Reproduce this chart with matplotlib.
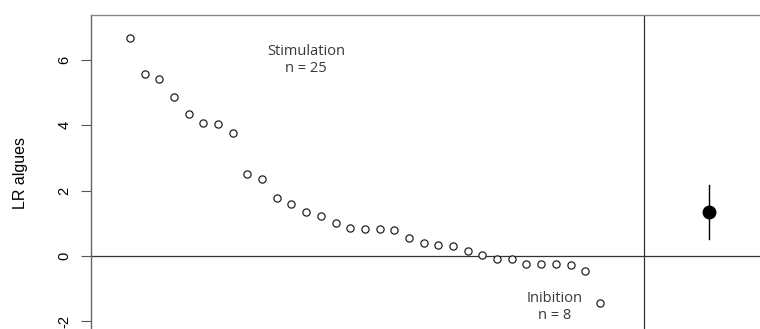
import matplotlib.pyplot as plt

# LR values, sorted
lr_values = [6.68, 5.57, 5.42, 4.86, 4.35, 4.07, 4.05, 3.77, 2.52, 2.35,
             1.78, 1.59, 1.34, 1.23, 1.01, 0.85, 0.84, 0.83, 0.80, 0.55,
             0.40, 0.34, 0.31, 0.17, 0.03,
             -0.08, -0.10, -0.24, -0.24, -0.24, -0.26, -0.45, -1.43]
idx = list(range(1, len(lr_values) + 1))

mean_x = 40.4
mean_lr = 1.35
ci_low = 0.51
ci_high = 2.17
sep_x = 36

yticks = [-2, 0, 2, 4, 6]

fig = plt.figure(figsize=(7.6, 3.29), dpi=100)
ax = fig.add_axes([91 / 760, 0, 1 - 91 / 760, 1 - 15 / 329])

ax.plot(idx, lr_values, 'o', mfc='white', mec='#222222', mew=0.9, ms=5.2, zorder=3)
ax.axhline(0, color='#333333', lw=0.9)
ax.axvline(sep_x, color='#333333', lw=0.9)
ax.plot([mean_x, mean_x], [ci_low, ci_high], color='black', lw=1.0)
ax.plot(mean_x, mean_lr, 'o', color='black', ms=9, zorder=4)

ax.text(13, 6.0, 'Stimulation\nn = 25', ha='center', va='center',
        fontsize=10.5, family='Open Sans', linespacing=1.2, color='#383838')
ax.text(29.9, -1.56, 'Inibition\nn = 8', ha='center', va='center',
        fontsize=10.5, family='Open Sans', linespacing=1.2, color='#383838')

ax.set_xlim(-1.65, 43.9)
ax.set_ylim(-2.23, 7.37)
ax.set_yticks(yticks)
ax.set_yticklabels([str(t) for t in yticks], rotation=90, va='center',
                   fontsize=10.5, family='Liberation Sans')
ax.tick_params(axis='y', length=7, width=0.8, color='#555555', pad=7)
ax.set_xticks([])
fig.text(20 / 760, 1 - 173 / 329, 'LR algues', rotation=90, ha='center', va='center',
         fontsize=11.5, family='Liberation Sans')

for s in ['right', 'bottom']:
    ax.spines[s].set_visible(False)
ax.spines['left'].set_color('#666666')
ax.spines['top'].set_color('#888888')
ax.spines['left'].set_linewidth(1.0)
ax.spines['top'].set_linewidth(1.0)

fig.savefig('out.png', dpi=100)
